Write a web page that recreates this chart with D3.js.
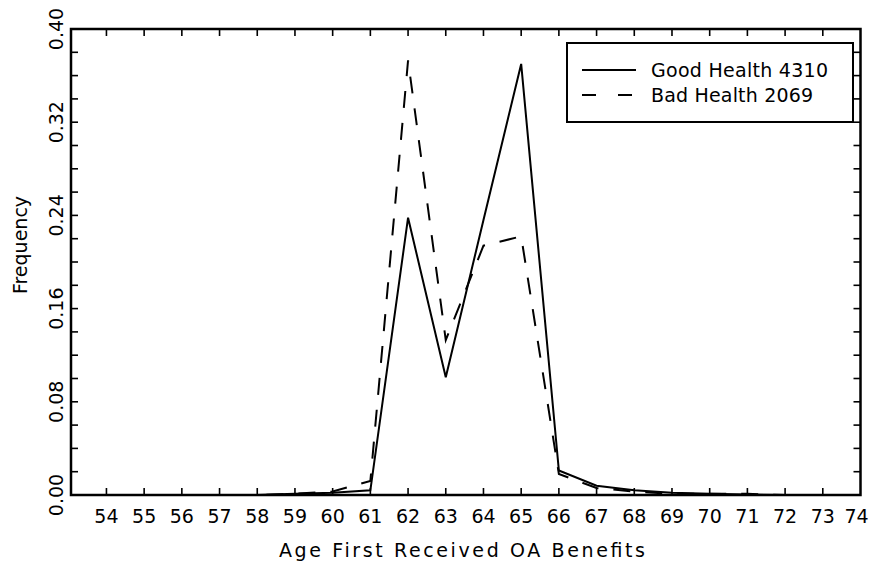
<!DOCTYPE html>
<html>
<head>
<title>Age First Received OA Benefits</title>
<script src="https://d3js.org/d3.v7.min.js"></script>
<style>
body { margin: 0; background: #fff; }
text { font-family: "DejaVu Sans", Arial; fill: #000; }
.line { fill: none; stroke: #000; stroke-width: 2; stroke-linejoin: miter; }
</style>
</head>
<body>
<svg id="chart" width="871" height="562"></svg>
<script>

// ages on the x axis
var ages = [54, 55, 56, 57, 58, 59, 60, 61, 62, 63, 64, 65, 66, 67, 68, 69, 70, 71, 72, 73, 74];

// frequency per age
var goodHealth = [0, 0, 0, 0, 0, 0.001, 0.002, 0.004, 0.238, 0.101, 0.236, 0.370, 0.021, 0.008, 0.004, 0.002, 0.001, 0.0005, 0, 0, 0];
var badHealth  = [0, 0, 0, 0, 0, 0.001, 0.003, 0.012, 0.373, 0.133, 0.214, 0.222, 0.018, 0.006, 0.003, 0.001, 0.001, 0.001, 0, 0, 0];

var seriesNames = ['Good Health 4310', 'Bad Health 2069'];
var yTickLabels = [0, 0.08, 0.16, 0.24, 0.32, 0.40];
var yMinorTicks = d3.range(0, 0.4001, 0.02);

var svg = d3.select('#chart');

var x = d3.scaleLinear()
  .domain([53.06, 74])
  .range([71, 860.5]);

var y = d3.scaleLinear()
  .domain([0, 0.4])
  .range([495, 29]);

var tickLen = 7;

// frame
svg.append('rect')
  .attr('x', x.range()[0])
  .attr('y', y.range()[1])
  .attr('width', x.range()[1] - x.range()[0])
  .attr('height', y.range()[0] - y.range()[1])
  .attr('fill', 'none')
  .attr('stroke', '#000')
  .attr('stroke-width', 2.5);

// inward ticks on all four sides
var xTicks = ages.filter(a => a < 74);
var tg = svg.append('g').attr('stroke', '#000').attr('stroke-width', 1.6);

tg.selectAll('.bt').data(xTicks).join('line')
  .attr('x1', d => x(d)).attr('x2', d => x(d))
  .attr('y1', y(0)).attr('y2', y(0) - tickLen);

tg.selectAll('.tt').data(xTicks).join('line')
  .attr('x1', d => x(d)).attr('x2', d => x(d))
  .attr('y1', y(0.4)).attr('y2', y(0.4) + tickLen);

tg.selectAll('.lt').data(yMinorTicks).join('line')
  .attr('x1', x.range()[0]).attr('x2', x.range()[0] + tickLen)
  .attr('y1', d => y(d)).attr('y2', d => y(d));

tg.selectAll('.rt').data(yMinorTicks).join('line')
  .attr('x1', x.range()[1]).attr('x2', x.range()[1] - tickLen)
  .attr('y1', d => y(d)).attr('y2', d => y(d));

// x tick labels (last one pulled in a bit so it stays on the page)
svg.append('g').selectAll('text').data(ages).join('text')
  .attr('x', d => x(d) - (d == 74 ? 4 : 0))
  .attr('y', 523)
  .attr('text-anchor', 'middle')
  .style('font-size', '19px')
  .text(d => d);

// y tick labels, rotated
svg.append('g').selectAll('text').data(yTickLabels).join('text')
  .attr('transform', d => 'translate(63,' + y(d) + ') rotate(-90)')
  .attr('text-anchor', 'middle')
  .style('font-size', '19px')
  .text(d => d.toFixed(2));

// axis titles
svg.append('text')
  .attr('x', 462)
  .attr('y', 557)
  .attr('text-anchor', 'middle')
  .attr('textLength', 366)
  .attr('lengthAdjust', 'spacing')
  .style('font-size', '19px')
  .text('Age First Received OA Benefits');

svg.append('text')
  .attr('transform', 'translate(27,245) rotate(-90)')
  .attr('text-anchor', 'middle')
  .style('font-size', '19px')
  .text('Frequency');

// the two lines
var line = d3.line()
  .x((d, i) => x(ages[i]))
  .y(d => y(d));

svg.append('path')
  .datum(goodHealth)
  .attr('class', 'line')
  .attr('d', line);

svg.append('path')
  .datum(badHealth)
  .attr('class', 'line')
  .attr('stroke-dasharray', '17,15')
  .attr('d', line);

// legend
var lg = svg.append('g');
lg.append('rect')
  .attr('x', 567).attr('y', 43)
  .attr('width', 286).attr('height', 79)
  .attr('fill', '#fff')
  .attr('stroke', '#000')
  .attr('stroke-width', 2);

var dashes = [null, '14,22'];
seriesNames.forEach(function(name, i) {
  var ly = 70 + i * 25;
  lg.append('line')
    .attr('x1', 582).attr('x2', 636)
    .attr('y1', ly).attr('y2', ly)
    .attr('stroke', '#000')
    .attr('stroke-width', 2)
    .attr('stroke-dasharray', dashes[i]);
  lg.append('text')
    .attr('x', 651)
    .attr('y', ly + 7)
    .attr('textLength', i == 0 ? 177 : 162)
    .attr('lengthAdjust', 'spacing')
    .style('font-size', '19px')
    .text(name);
});

</script>
</body>
</html>
